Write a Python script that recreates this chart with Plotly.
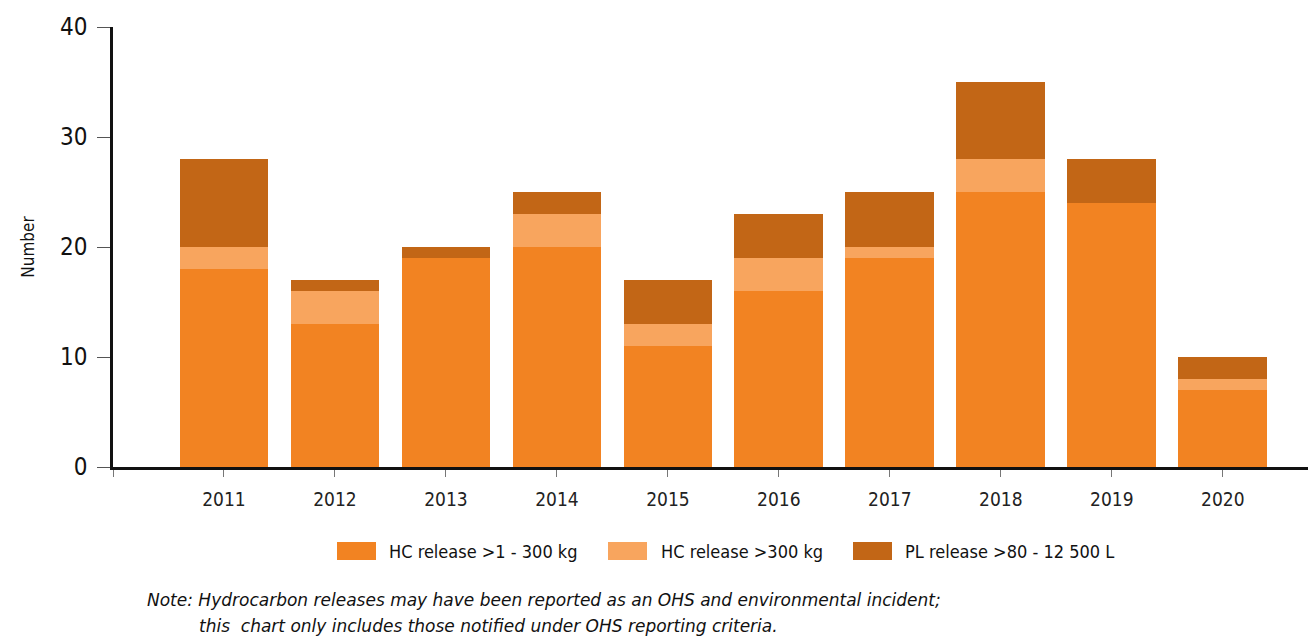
import plotly.graph_objects as go

years = ["2011", "2012", "2013", "2014", "2015", "2016", "2017", "2018", "2019", "2020"]
hc_small = [18, 13, 19, 20, 11, 16, 19, 25, 24, 7]
hc_large = [2, 3, 0, 3, 2, 3, 1, 3, 0, 1]
pl_release = [8, 1, 1, 2, 4, 4, 5, 7, 4, 2]

series_names = ["HC release >1 - 300 kg", "HC release >300 kg", "PL release >80 - 12 500 L"]
series_colors = ["#F28322", "#F8A55E", "#C26616"]
y_ticks = [0, 10, 20, 30, 40]

FONT = "DejaVu Sans Condensed, Liberation Sans Narrow, sans-serif"

x_idx = list(range(len(years)))

# the page body has an 8px default margin, so the figure is offset by 8px
OFF = 8

fig = go.Figure()
for name, vals, col in zip(series_names, [hc_small, hc_large, pl_release], series_colors):
    fig.add_trace(go.Bar(
        x=x_idx, y=vals, name=name, width=0.8,
        marker=dict(color=col, line=dict(width=0)),
        showlegend=False,
    ))

fig.update_layout(
    barmode="stack",
    width=1316 - OFF, height=638 - OFF,
    margin=dict(l=113 - OFF, r=0, t=27 - OFF, b=171),
    plot_bgcolor="white", paper_bgcolor="white",
    font=dict(family=FONT, color="#222222"),
    xaxis=dict(
        range=[-1, 9.84],
        tickmode="array",
        tickvals=[-1] + x_idx,
        ticktext=[""] + years,
        ticks="outside", ticklen=7, tickwidth=1, tickcolor="#777777",
        showline=True, linecolor="#111111", linewidth=2.5,
        showgrid=False, zeroline=False,
        tickfont=dict(size=19, family=FONT, color="#222222"),
        ticklabelstandoff=6,
    ),
    yaxis=dict(
        range=[0, 40],
        tickmode="array", tickvals=y_ticks,
        ticks="outside", ticklen=13, tickwidth=1, tickcolor="#555555",
        showline=True, linecolor="#111111", linewidth=2.5,
        showgrid=False, zeroline=False,
        tickfont=dict(size=24, family=FONT, color="#111111"),
        ticklabelstandoff=5,
        title=dict(text="Number", font=dict(size=17, family=FONT, color="#111111"), standoff=22),
    ),
)

# manual legend (swatch + label); positions in reference-picture pixels
W = 1203.0
H = 440.0
def px_x(p):
    return (p - 113) / W
def px_y(p):
    return (467 - p) / H

legend_swatch_x = [337, 608, 853]
legend_text_x = [387, 659, 903]
for name, col, sx, tx in zip(series_names, series_colors, legend_swatch_x, legend_text_x):
    fig.add_shape(type="rect", xref="paper", yref="paper",
                  x0=px_x(sx), x1=px_x(sx + 39), y0=px_y(560), y1=px_y(542),
                  fillcolor=col, line=dict(width=0))
    fig.add_annotation(xref="paper", yref="paper", x=px_x(tx), y=px_y(551),
                       xanchor="left", yanchor="middle", showarrow=False,
                       text=name, font=dict(size=18, family=FONT, color="#111111"))

NOTE_FONT = "DejaVu Sans, sans-serif"
fig.add_annotation(xref="paper", yref="paper", x=px_x(145), y=px_y(600),
                   xanchor="left", yanchor="middle", showarrow=False,
                   text="<i>Note: Hydrocarbon releases may have been reported as an OHS and environmental incident;</i>",
                   font=dict(size=17, family=NOTE_FONT, color="#111111"))
fig.add_annotation(xref="paper", yref="paper", x=px_x(197), y=px_y(626),
                   xanchor="left", yanchor="middle", showarrow=False,
                   text="<i>this\u00a0 chart only includes those notified under OHS reporting criteria.</i>",
                   font=dict(size=17, family=NOTE_FONT, color="#111111"))

fig.write_html("out.html")
